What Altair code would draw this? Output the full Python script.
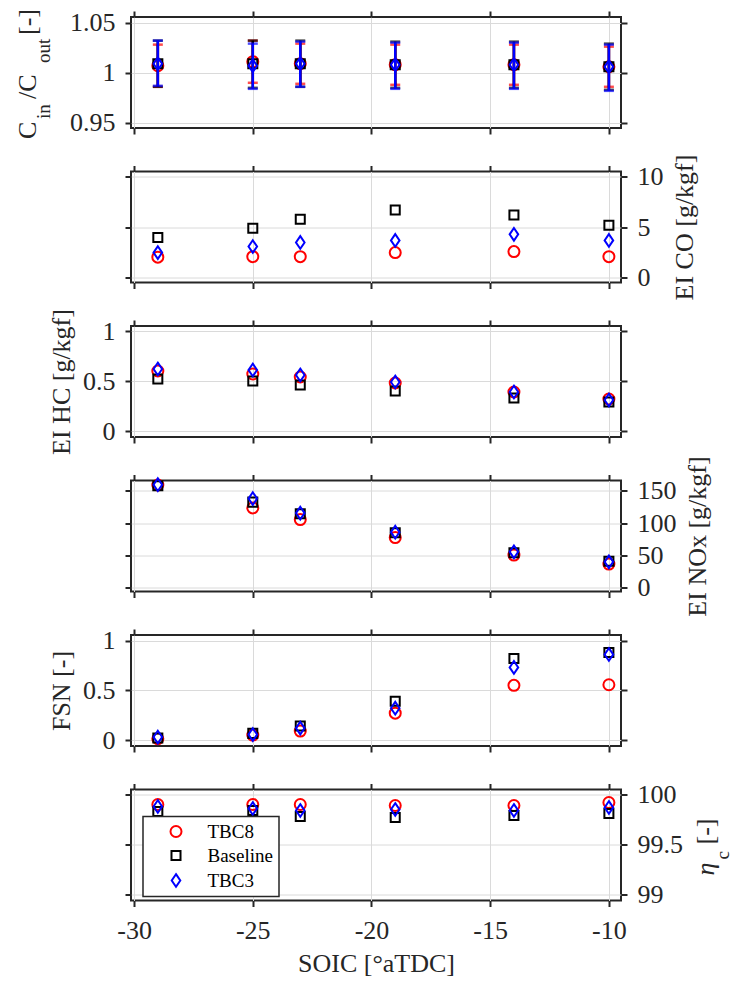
import altair as alt
import pandas as pd

FONT = "Liberation Serif"
AXC = "#262626"
GRID = "#dadada"

# ---------------- data ----------------
soic = [-29, -25, -23, -19, -14, -10]
series = ["TBC8", "Baseline", "TBC3"]
colors = ["#ff0000", "#000000", "#0000ff"]
shapes = ["circle",
          "M-0.82,-0.82L0.82,-0.82L0.82,0.82L-0.82,0.82Z",
          "M0,-1.15L0.78,0L0,1.15L-0.78,0Z"]
x_ticks = [-30, -25, -20, -15, -10]
x_domain = [-30.13, -9.49]

cin_cout = {"TBC8": [1.007, 1.011, 1.009, 1.008, 1.008, 1.006],
            "Baseline": [1.009, 1.009, 1.009, 1.008, 1.008, 1.006],
            "TBC3": [1.009, 1.007, 1.009, 1.008, 1.008, 1.006]}
cin_cout_lo = {"TBC8": [0.986, 0.990, 0.989, 0.988, 0.988, 0.986],
               "Baseline": [0.986, 0.985, 0.986, 0.985, 0.985, 0.983],
               "TBC3": [0.987, 0.984, 0.986, 0.984, 0.984, 0.982]}
cin_cout_hi = {"TBC8": [1.028, 1.032, 1.029, 1.028, 1.028, 1.026],
               "Baseline": [1.032, 1.032, 1.032, 1.031, 1.031, 1.029],
               "TBC3": [1.032, 1.029, 1.031, 1.030, 1.030, 1.028]}
ei_co = {"TBC8": [2.05, 2.1, 2.1, 2.5, 2.6, 2.1],
         "Baseline": [4.0, 4.9, 5.8, 6.7, 6.2, 5.2],
         "TBC3": [2.5, 3.1, 3.5, 3.7, 4.3, 3.7]}
ei_hc = {"TBC8": [0.60, 0.57, 0.54, 0.48, 0.39, 0.32],
         "Baseline": [0.52, 0.50, 0.46, 0.40, 0.33, 0.29],
         "TBC3": [0.62, 0.61, 0.56, 0.49, 0.39, 0.31]}
ei_nox = {"TBC8": [159, 123.5, 105.5, 77.5, 50.5, 36.5],
          "Baseline": [158, 132.5, 114.5, 85, 54, 41],
          "TBC3": [159.5, 138, 115.5, 86, 55.5, 40]}
fsn = {"TBC8": [0.013, 0.05, 0.09, 0.27, 0.55, 0.556],
       "Baseline": [0.02, 0.067, 0.14, 0.39, 0.82, 0.88],
       "TBC3": [0.03, 0.055, 0.12, 0.32, 0.73, 0.86]}
eta_c = {"TBC8": [99.90, 99.90, 99.90, 99.89, 99.89, 99.92],
         "Baseline": [99.83, 99.84, 99.78, 99.77, 99.79, 99.81],
         "TBC3": [99.88, 99.86, 99.84, 99.85, 99.84, 99.87]}


def make_df(vals, lo=None, hi=None):
    rows = []
    for s in series:
        for i, xv in enumerate(soic):
            r = {"soic": xv, "series": s, "v": vals[s][i]}
            if lo is not None:
                r["lo"] = lo[s][i]
                r["hi"] = hi[s][i]
            rows.append(r)
    return pd.DataFrame(rows)


XS = alt.Scale(domain=x_domain, nice=False, zero=False)
W, H = 490, 111
LABEL_EXPR = "replace(format(datum.value, '.2~f'), '\u2212', '-')"


def x_axis(orient, labels=False, title=None, grid=False):
    return alt.Axis(orient=orient, values=x_ticks, labels=labels, grid=grid,
                    gridColor=GRID, gridWidth=1, domain=False, ticks=True,
                    tickSize=6, tickWidth=2, tickColor=AXC, labelFont=FONT,
                    labelFontSize=26, labelColor=AXC, labelPadding=11,
                    labelFlush=False, labelExpr=LABEL_EXPR, title=title,
                    titleFont=FONT, titleFontSize=26, titleFontWeight="normal",
                    titleColor=AXC, titlePadding=7)


def y_axis(orient, vals, labels=False, title=None, grid=False, right_title=False):
    kw = dict(orient=orient, values=vals, labels=labels, grid=grid,
              gridColor=GRID, gridWidth=1, domain=False, ticks=True,
              tickSize=6, tickWidth=2, tickColor=AXC, labelFont=FONT,
              labelFontSize=26, labelColor=AXC, labelPadding=10,
              labelFlush=False, labelExpr=LABEL_EXPR, title=title,
              titleFont=FONT, titleFontSize=26, titleFontWeight="normal",
              titleColor=AXC, titlePadding=8)
    if right_title:
        kw["titleAngle"] = 270
        kw["titleBaseline"] = "top"
    return alt.Axis(**kw)


one = pd.DataFrame({"k": [0]})


def piece(text, px, py, size, italic=False):
    kw = dict(text=text, angle=270, align="left", baseline="alphabetic",
              font=FONT, fontSize=size, color=AXC)
    if italic:
        kw["fontStyle"] = "italic"
    return alt.Chart(one).mark_text(**kw).encode(x=alt.value(px), y=alt.value(py))


def panel(df, y_dom, y_vals, side, title=None, x_labels=False, x_title=None,
          legend=None, err=False, extra=None):
    YS = alt.Scale(domain=y_dom, nice=False, zero=False)
    other = "right" if side == "left" else "left"
    base = alt.Chart(df)
    main_axes = base.mark_point(opacity=0).encode(
        x=alt.X("soic:Q", scale=XS, axis=x_axis("bottom", labels=x_labels, title=x_title, grid=True)),
        y=alt.Y("v:Q", scale=YS, axis=y_axis(side, y_vals, labels=True, title=title, grid=True,
                                             right_title=(side == "right"))))
    other_axes = base.mark_point(opacity=0).encode(
        x=alt.X("soic:Q", scale=XS, axis=x_axis("top")),
        y=alt.Y("v:Q", scale=YS, axis=y_axis(other, y_vals)))
    cscale = alt.Scale(domain=series, range=colors)
    sscale = alt.Scale(domain=series, range=shapes)
    color = alt.Color("series:N", scale=cscale, legend=legend)
    shape = alt.Shape("series:N", scale=sscale, legend=legend)
    X = alt.X("soic:Q", scale=XS, axis=None)
    layers = [main_axes, other_axes]
    if err:
        for s in series:
            f = base.transform_filter(alt.datum.series == s)
            c0 = alt.Color("series:N", scale=cscale, legend=None)
            layers.append(f.mark_rule(strokeWidth=2.5).encode(
                x=X, y=alt.Y("lo:Q", scale=YS, axis=None), y2="hi:Q", color=c0))
            layers.append(f.mark_tick(orient="horizontal", size=10, thickness=2.5).encode(
                x=X, y=alt.Y("lo:Q", scale=YS, axis=None), color=c0))
            layers.append(f.mark_tick(orient="horizontal", size=10, thickness=2.5).encode(
                x=X, y=alt.Y("hi:Q", scale=YS, axis=None), color=c0))
            layers.append(f.mark_point(filled=False, size=121, strokeWidth=2, opacity=1).encode(
                x=X, y=alt.Y("v:Q", scale=YS, axis=None), color=color, shape=shape))
    else:
        layers.append(base.mark_point(filled=False, size=121, strokeWidth=2, opacity=1).encode(
            x=X, y=alt.Y("v:Q", scale=YS, axis=None), color=color, shape=shape))
    if extra:
        layers += extra
    return alt.layer(*layers).resolve_axis(x="independent", y="independent").properties(width=W, height=H)


p1_title = [piece("C", -95, 122, 26), piece("in", -81, 102, 19),
            piece("/C", -95, 82, 26), piece("out", -81, 46, 19),
            piece("[-]", -95, 18, 26)]
p6_title = [piece("η", 583, 86, 26, italic=True), piece("c", 598, 70, 19),
            piece("[-]", 583, 55, 26)]

legend6 = alt.Legend(title=None, orient="none", legendX=12, legendY=27,
                     fillColor="white", strokeColor=AXC, padding=5.5,
                     labelFont=FONT, labelFontSize=19, labelColor="#000000",
                     symbolSize=121, symbolStrokeWidth=2, symbolOffset=18,
                     labelOffset=22, rowPadding=4, cornerRadius=0)

p1 = panel(make_df(cin_cout, cin_cout_lo, cin_cout_hi), [0.945, 1.0555],
           [0.95, 1, 1.05], "left", err=True, extra=p1_title)
p2 = panel(make_df(ei_co), [-0.45, 10.5], [0, 5, 10], "right", title="EI CO [g/kgf]")
p3 = panel(make_df(ei_hc), [-0.06, 1.05], [0, 0.5, 1], "left", title="EI HC [g/kgf]")
p4 = panel(make_df(ei_nox), [-6, 166], [0, 50, 100, 150], "right", title="EI NOx [g/kgf]")
p5 = panel(make_df(fsn), [-0.06, 1.056], [0, 0.5, 1], "left", title="FSN [-]")
p6 = panel(make_df(eta_c), [98.94, 100.05], [99, 99.5, 100], "right",
           x_labels=True, x_title="SOIC [°aTDC]", legend=legend6, extra=p6_title)

chart = alt.vconcat(p1, p2, p3, p4, p5, p6, spacing=43.5, bounds="flush").resolve_scale(
    color="independent", shape="independent"
).properties(
    padding={"left": 6, "top": 0, "right": 0, "bottom": 0},
    background="white"
).configure_view(stroke=AXC, strokeWidth=2).configure_legend(strokeWidth=1.5)

chart.save("out.html", embed_options={"renderer": "svg", "actions": False})
